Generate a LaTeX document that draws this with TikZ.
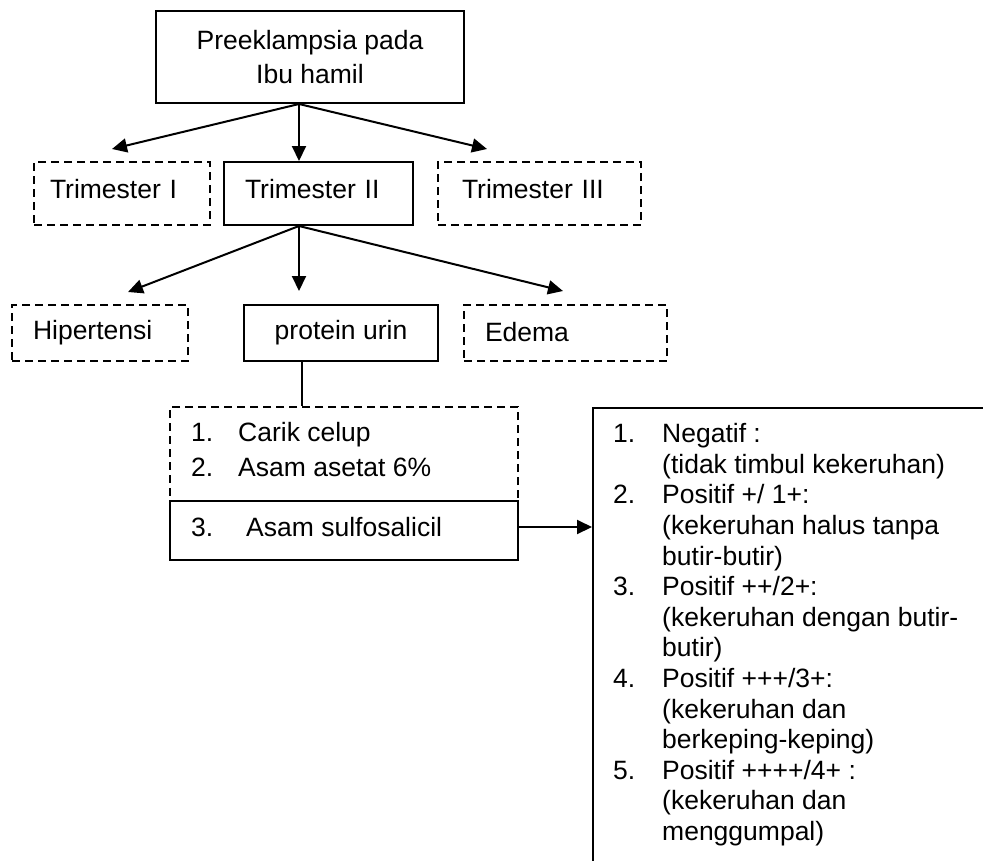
\documentclass[tikz,border=0pt]{standalone}
\usepackage{fontspec}
\setmainfont{Liberation Sans}
\usetikzlibrary{arrows.meta}
\begin{document}
\begin{tikzpicture}[x=1pt,y=-1pt,
  every node/.style={font=\fontsize{26.5}{30.6}\selectfont},
  sbox/.style={draw, line width=2pt, inner ysep=0pt, align=left},
  dbox/.style={sbox, dash pattern=on 8pt off 5pt},
  arr/.style={line width=2pt, -{Triangle[length=15pt,width=14pt]}},
  conn/.style={line width=2pt}
]
\fill[white] (0,0) rectangle (983,860);
\useasboundingbox (0,0) rectangle (983,860);

% top box
\node[sbox, align=center, minimum width=308pt, minimum height=92pt,
  font=\fontsize{26.5}{34}\selectfont] (top) at (310,57) {Preeklampsia pada\\Ibu hamil};

% trimesters
\node[dbox, inner xsep=16pt, text width=144pt, text depth=10pt, minimum height=63pt] (t1) at (122,193.5) {Trimester I};
\node[sbox, inner xsep=21pt, text width=147pt, text depth=10pt, minimum height=63pt] (t2) at (318.5,193.5) {Trimester II};
\node[dbox, inner xsep=24pt, text width=155pt, text depth=10pt, minimum height=63pt] (t3) at (539.5,193.5) {Trimester III};

% signs
\node[dbox, inner xsep=21pt, text width=134pt, minimum height=56pt] (hip) at (100,333) {Hipertensi};
\node[sbox, align=center, minimum width=194pt, minimum height=56pt] (pu) at (341,333) {protein urin};
\node[dbox, inner xsep=21pt, text width=161pt, text depth=3pt, minimum height=56pt] (ed) at (565.5,333) {Edema};

% methods
\node[dbox, inner xsep=0pt, minimum width=348pt, minimum height=94pt] (meth) at (344,454) {};
\node[anchor=west, inner sep=0pt, font=\fontsize{26.5}{35}\selectfont] (methtext) at ([xshift=22pt,yshift=2pt]meth.west)
  {\begin{tabular}{@{}p{47pt}@{}l@{}}1.&Carik celup\\2.&Asam asetat 6\%\end{tabular}};
\node[sbox, inner xsep=0pt, minimum width=348pt, minimum height=59pt] (sulfo) at (344,530.5) {};
\node[anchor=west, inner sep=0pt] (sulfotext) at ([xshift=22pt]sulfo.west)
  {\begin{tabular}{@{}p{55pt}@{}l@{}}3.&Asam sulfosalicil\end{tabular}};

% results box
\node[draw, line width=2pt, anchor=north west, inner sep=0pt, minimum width=440pt, minimum height=490pt] (rb) at (592,407) {};
\node[anchor=north west, inner sep=0pt] (rbtext) at ([shift={(21pt,-14pt)}]rb.north west)
  {\begin{tabular}{@{}p{49pt}@{}l@{}}
  1.&Negatif :\\
    &(tidak timbul kekeruhan)\\
  2.&Positif +/ 1+:\\
    &(kekeruhan halus tanpa\\
    &butir-butir)\\
  3.&Positif ++/2+:\\
    &(kekeruhan dengan butir-\\
    &butir)\\
  4.&Positif +++/3+:\\
    &(kekeruhan dan\\
    &berkeping-keping)\\
  5.&Positif ++++/4+ :\\
    &(kekeruhan dan\\
    &menggumpal)
  \end{tabular}};

% connectors level 1
\coordinate (s1) at ([xshift=-11pt]top.south);
\draw[arr] (s1) -- ([shift={(-10pt,12pt)}]t1.north);
\draw[arr] (s1) -- (s1 |- t2.north);
\draw[arr] (s1) -- ([shift={(-52.5pt,12pt)}]t3.north);

% connectors level 2
\coordinate (s2) at ([xshift=-19.5pt]t2.south);
\draw[arr] (s2) -- ([shift={(28pt,12pt)}]hip.north);
\draw[arr] (s2) -- ([yshift=13pt]s2 |- pu.north);
\draw[arr] (s2) -- ([shift={(-2.5pt,13pt)}]ed.north);

% protein urin to methods
\coordinate (s3) at ([xshift=-39pt]pu.south);
\draw[conn] (s3) -- (s3 |- meth.north);

% sulfosalicil to results
\coordinate (s4) at ([yshift=3.5pt]sulfo.east);
\draw[arr] (s4) -- (s4 -| rb.west);
\end{tikzpicture}
\end{document}
